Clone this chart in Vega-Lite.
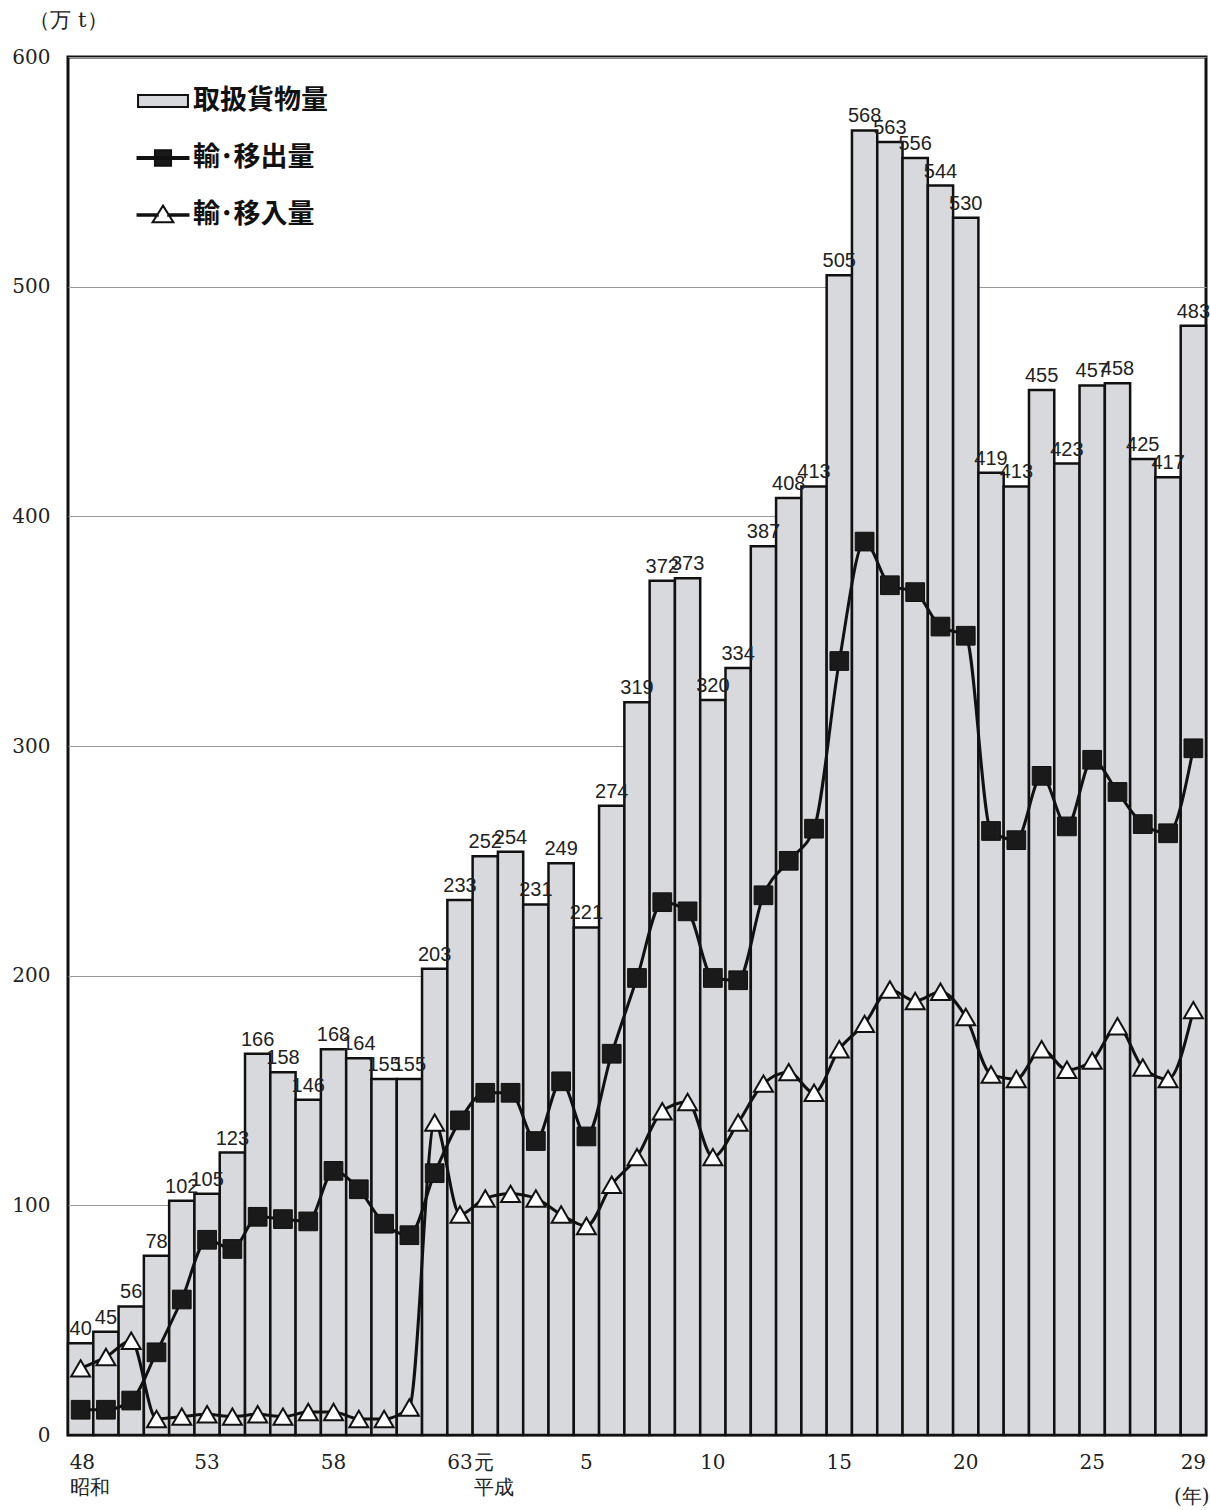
{
  "$schema": "https://vega.github.io/schema/vega-lite/v6.json",
  "width": 1138,
  "height": 1378,
  "autosize": {"type": "none"},
  "padding": {"left": 68, "top": 57, "right": 4, "bottom": 75},
  "background": "white",
  "config": {
    "view": {"stroke": "#111", "strokeWidth": 3},
    "legend": {
      "orient": "none",
      "legendX": 68,
      "legendY": 17,
      "title": null,
      "padding": 0,
      "symbolSize": 2704,
      "symbolStrokeWidth": 2,
      "symbolStrokeColor": "#111",
      "symbolOpacity": 1,
      "labelFont": "Noto Sans CJK JP",
      "labelFontSize": 27,
      "labelFontWeight": "bold",
      "labelColor": "#111",
      "labelOffset": 3,
      "rowPadding": 17
    }
  },
  "data": {
    "values": [
      {"year": 1973, "total": 40, "export": 11, "import": 29},
      {"year": 1974, "total": 45, "export": 11, "import": 34},
      {"year": 1975, "total": 56, "export": 15, "import": 41},
      {"year": 1976, "total": 78, "export": 36, "import": 7},
      {"year": 1977, "total": 102, "export": 59, "import": 8},
      {"year": 1978, "total": 105, "export": 85, "import": 9},
      {"year": 1979, "total": 123, "export": 81, "import": 8},
      {"year": 1980, "total": 166, "export": 95, "import": 9},
      {"year": 1981, "total": 158, "export": 94, "import": 8},
      {"year": 1982, "total": 146, "export": 93, "import": 10},
      {"year": 1983, "total": 168, "export": 115, "import": 10},
      {"year": 1984, "total": 164, "export": 107, "import": 7},
      {"year": 1985, "total": 155, "export": 92, "import": 7},
      {"year": 1986, "total": 155, "export": 87, "import": 12},
      {"year": 1987, "total": 203, "export": 114, "import": 136},
      {"year": 1988, "total": 233, "export": 137, "import": 96},
      {"year": 1989, "total": 252, "export": 149, "import": 103},
      {"year": 1990, "total": 254, "export": 149, "import": 105},
      {"year": 1991, "total": 231, "export": 128, "import": 103},
      {"year": 1992, "total": 249, "export": 154, "import": 96},
      {"year": 1993, "total": 221, "export": 130, "import": 91},
      {"year": 1994, "total": 274, "export": 166, "import": 109},
      {"year": 1995, "total": 319, "export": 199, "import": 121},
      {"year": 1996, "total": 372, "export": 232, "import": 141},
      {"year": 1997, "total": 373, "export": 228, "import": 145},
      {"year": 1998, "total": 320, "export": 199, "import": 121},
      {"year": 1999, "total": 334, "export": 198, "import": 136},
      {"year": 2000, "total": 387, "export": 235, "import": 153},
      {"year": 2001, "total": 408, "export": 250, "import": 158},
      {"year": 2002, "total": 413, "export": 264, "import": 149},
      {"year": 2003, "total": 505, "export": 337, "import": 168},
      {"year": 2004, "total": 568, "export": 389, "import": 179},
      {"year": 2005, "total": 563, "export": 370, "import": 194},
      {"year": 2006, "total": 556, "export": 367, "import": 189},
      {"year": 2007, "total": 544, "export": 352, "import": 193},
      {"year": 2008, "total": 530, "export": 348, "import": 182},
      {"year": 2009, "total": 419, "export": 263, "import": 157},
      {"year": 2010, "total": 413, "export": 259, "import": 155},
      {"year": 2011, "total": 455, "export": 287, "import": 168},
      {"year": 2012, "total": 423, "export": 265, "import": 159},
      {"year": 2013, "total": 457, "export": 294, "import": 163},
      {"year": 2014, "total": 458, "export": 280, "import": 178},
      {"year": 2015, "total": 425, "export": 266, "import": 160},
      {"year": 2016, "total": 417, "export": 262, "import": 155},
      {"year": 2017, "total": 483, "export": 299, "import": 185}
    ]
  },
  "layer": [
    {
      "mark": {"type": "bar", "fill": "#d8d9dc", "stroke": "#111", "strokeWidth": 2.5},
      "encoding": {
        "x": {
          "field": "year",
          "type": "ordinal",
          "scale": {"paddingInner": 0, "paddingOuter": 0},
          "axis": {
            "title": "(年)",
            "titleX": 1141,
            "titleY": 61,
            "titleAlign": "right",
            "titleBaseline": "middle",
            "titleFont": "DejaVu Serif",
            "titleFontSize": 20,
            "titleFontWeight": "normal",
            "titleColor": "#222",
            "domain": false,
            "ticks": false,
            "tickSize": 0,
            "grid": false,
            "labelAngle": 0,
            "labelAlign": {"condition": {"test": "datum.value == 1973 || datum.value == 1989", "value": "left"}, "value": "center"},
            "labelOffset": {"condition": {"test": "datum.value == 1973 || datum.value == 1989", "value": -11}, "value": 0},
            "labelBaseline": "top",
            "labelPadding": 17,
            "labelFont": "DejaVu Serif",
            "labelFontSize": 20,
            "labelColor": "#222",
            "labelLineHeight": 25,
            "labelOverlap": false,
            "labelBound": false,
            "labelFlush": false,
            "values": [1973, 1978, 1983, 1988, 1989, 1993, 1998, 2003, 2008, 2013, 2017],
            "labelExpr": "datum.value == 1973 ? ['48', '昭和'] : datum.value == 1989 ? ['元', '平成'] : (datum.value < 1989 ? '' + (datum.value - 1925) : '' + (datum.value - 1988))"
          }
        },
        "y": {
          "field": "total",
          "type": "quantitative",
          "scale": {"domain": [0, 600], "nice": false},
          "axis": {
            "title": "（万 t）",
            "titleAngle": 0,
            "titleX": 0,
            "titleY": -37,
            "titleAlign": "center",
            "titleBaseline": "middle",
            "titleFont": "DejaVu Serif",
            "titleFontSize": 21,
            "titleFontWeight": "normal",
            "titleColor": "#222",
            "domain": false,
            "ticks": false,
            "tickSize": 0,
            "grid": true,
            "gridColor": "#999",
            "gridWidth": 1,
            "values": [0, 100, 200, 300, 400, 500, 600],
            "labelFont": "DejaVu Serif",
            "labelFontSize": 20,
            "labelColor": "#222",
            "labelPadding": 18
          }
        }
      }
    },
    {
      "mark": {"type": "line", "interpolate": "monotone", "stroke": "#111", "strokeWidth": 3},
      "encoding": {
        "x": {"field": "year", "type": "ordinal"},
        "y": {"field": "import", "type": "quantitative"}
      }
    },
    {
      "mark": {"type": "line", "interpolate": "monotone", "stroke": "#111", "strokeWidth": 3},
      "encoding": {
        "x": {"field": "year", "type": "ordinal"},
        "y": {"field": "export", "type": "quantitative"}
      }
    },
    {
      "mark": {"type": "point", "shape": "triangle-up", "filled": true, "fill": "white", "stroke": "#111", "strokeWidth": 2, "size": 360, "opacity": 1},
      "encoding": {
        "x": {"field": "year", "type": "ordinal"},
        "y": {"field": "import", "type": "quantitative"}
      }
    },
    {
      "mark": {"type": "point", "shape": "square", "filled": true, "fill": "#1a1a1a", "stroke": "#111", "strokeWidth": 1, "size": 350, "opacity": 1},
      "encoding": {
        "x": {"field": "year", "type": "ordinal"},
        "y": {"field": "export", "type": "quantitative"}
      }
    },
    {
      "mark": {"type": "text", "font": "Liberation Sans", "fontSize": 20, "fill": "#222", "baseline": "alphabetic", "align": "center", "dy": -8},
      "encoding": {
        "x": {"field": "year", "type": "ordinal"},
        "y": {"field": "total", "type": "quantitative"},
        "text": {"field": "total", "type": "quantitative"}
      }
    },
    {
      "data": {"values": [{"series": "取扱貨物量"}, {"series": "輸･移出量"}, {"series": "輸･移入量"}]},
      "mark": {"type": "point", "filled": false, "opacity": 0, "stroke": "#111", "strokeWidth": 2},
      "encoding": {
        "shape": {
          "field": "series",
          "type": "nominal",
          "scale": {
            "domain": ["取扱貨物量", "輸･移出量", "輸･移入量"],
            "range": [
              "M-0.96,-0.23H0.96V0.23H-0.96Z",
              "M-0.98,-0.04H0.98V0.04H-0.98Z M-0.31,-0.3H0.31V0.3H-0.31Z",
              "M-0.98,-0.03H-0.2V0.03H-0.98Z M0.2,-0.03H0.98V0.03H0.2Z M0,-0.36L0.4,0.28L-0.4,0.28Z"
            ]
          },
          "legend": {
            "orient": "none", "legendX": 68, "legendY": 17, "title": null,
            "encode": {"symbols": {"update": {"stroke": {"value": "#111"}, "strokeWidth": {"value": 2}, "strokeOpacity": {"value": 1}, "fillOpacity": {"value": 1}, "opacity": {"value": 1}}}}
          }
        },
        "fill": {
          "field": "series",
          "type": "nominal",
          "scale": {
            "domain": ["取扱貨物量", "輸･移出量", "輸･移入量"],
            "range": ["#d8d9dc", "#1a1a1a", "#ffffff"]
          },
          "legend": {
            "orient": "none", "legendX": 68, "legendY": 17, "title": null,
            "encode": {"symbols": {"update": {"stroke": {"value": "#111"}, "strokeWidth": {"value": 2}, "strokeOpacity": {"value": 1}, "fillOpacity": {"value": 1}, "opacity": {"value": 1}}}}
          }
        }
      }
    }
  ]
}
